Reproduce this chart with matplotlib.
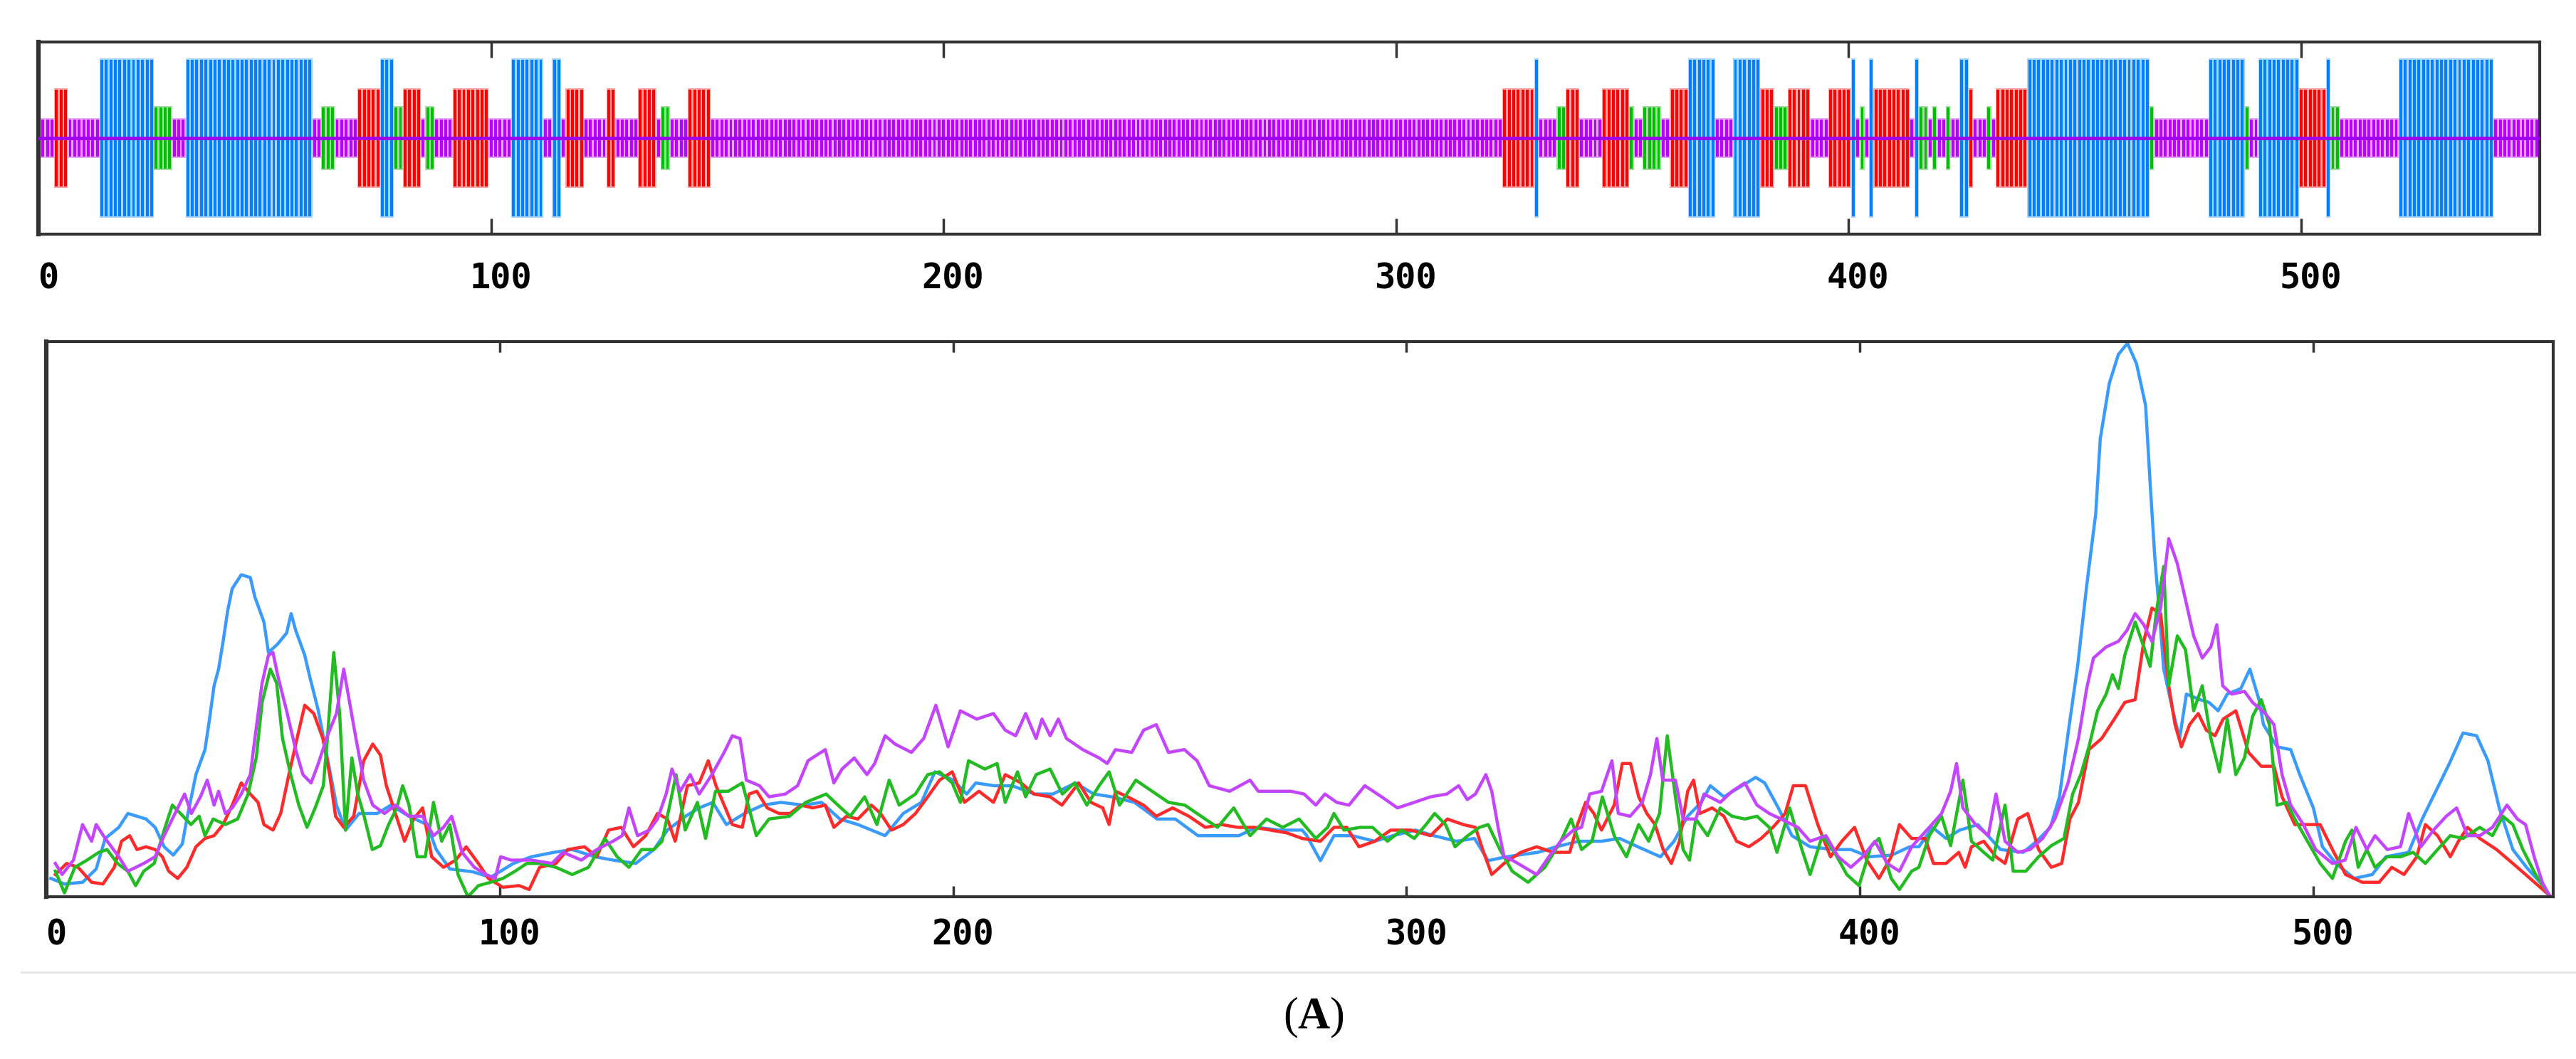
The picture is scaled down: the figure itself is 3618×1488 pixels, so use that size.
import numpy as np
import matplotlib
matplotlib.use("Agg")
import matplotlib.pyplot as plt
from matplotlib.lines import Line2D

plt.rcParams["mathtext.fontset"] = "custom"
plt.rcParams["mathtext.rm"] = "Liberation Serif"
plt.rcParams["mathtext.bf"] = "Liberation Serif:bold"

# secondary structure runs: start, end, state (h helix, e strand, t turn, c coil)
ss_start = [1, 4, 7, 14, 26, 30, 33, 61, 63, 66, 71, 76, 79, 81, 85, 86, 88, 92, 100, 105,
            112, 114, 116, 117, 121, 126, 128, 133, 137, 138, 140, 144, 149, 324, 331, 332,
            336, 338, 341, 346, 352, 353, 355, 359, 361, 365, 371, 375, 381, 384, 387, 392,
            396, 401, 402, 403, 404, 405, 406, 414, 415, 416, 418, 419, 420, 422, 423, 425,
            427, 428, 431, 432, 433, 440, 467, 468, 480, 488, 489, 491, 500, 506, 507, 509,
            522, 543]
ss_end = [3, 6, 13, 25, 29, 32, 60, 62, 65, 70, 75, 78, 80, 84, 85, 87, 91, 99, 104, 111,
          113, 115, 116, 120, 125, 127, 132, 136, 137, 139, 143, 148, 323, 330, 331, 335,
          337, 340, 345, 351, 352, 354, 358, 360, 364, 370, 374, 380, 383, 386, 391, 395,
          400, 401, 402, 403, 404, 405, 413, 414, 415, 417, 418, 419, 421, 422, 424, 426,
          427, 430, 431, 432, 439, 466, 467, 479, 487, 488, 490, 499, 505, 506, 508, 521,
          542, 552]
ss_state = ["c", "e", "c", "h", "t", "c", "h", "c", "t", "c",
            "e", "h", "t", "e", "c", "t", "c", "e", "c", "h",
            "c", "h", "c", "e", "c", "e", "c", "e", "c", "t",
            "c", "e", "c", "e", "h", "c", "t", "e", "c", "e",
            "t", "c", "t", "c", "e", "h", "c", "h", "e", "t",
            "e", "c", "e", "h", "c", "t", "c", "h", "e", "c",
            "h", "t", "c", "t", "c", "t", "c", "h", "e", "c",
            "t", "c", "e", "h", "t", "c", "h", "t", "c", "h",
            "e", "h", "t", "c", "h", "c"]

# score curves (fraction of the plot height)
helix_x = [1, 4, 8, 11, 13, 16, 18, 20, 22, 24, 26, 28, 30, 31, 33, 35, 36, 37, 38, 39, 40, 41,
           43, 45, 46, 48, 49, 51, 53, 54, 55, 57, 58, 60, 62, 64, 66, 69, 73, 76, 80, 84, 86,
           89, 94, 98, 103, 107, 112, 116, 121, 125, 130, 134, 137, 141, 144, 147, 150, 154,
           158, 162, 167, 171, 175, 179, 185, 189, 193, 196, 200, 203, 205, 209, 213, 218, 222,
           227, 231, 235, 240, 245, 249, 254, 258, 263, 267, 272, 277, 278, 281, 284, 288, 293,
           297, 302, 306, 311, 315, 318, 322, 329, 333, 338, 343, 347, 351, 356, 359, 362, 365,
           367, 370, 374, 377, 379, 382, 385, 389, 394, 398, 402, 407, 411, 413, 416, 419, 422,
           426, 431, 436, 439, 442, 444, 446, 448, 450, 452, 453, 455, 457, 459, 461, 463, 464,
           465, 466, 467, 469, 470.5, 472, 475, 477, 479, 481, 484, 486, 488, 489, 492, 495, 497,
           500, 502, 505, 509, 513, 516, 521, 524, 527, 530, 533, 536, 538.5, 541, 544, 547,
           550, 552]
helix_y = [.033, .023, .026, .05, .105, .125, .15, .145, .14, .125, .09, .075, .095, .14, .22,
           .265, .32, .38, .41, .46, .515, .555, .58, .575, .54, .495, .44, .455, .475, .51,
           .48, .435, .40, .335, .25, .165, .12, .15, .15, .165, .145, .13, .085, .05, .045,
           .035, .06, .072, .08, .085, .072, .066, .06, .085, .12, .145, .16, .17, .13, .15,
           .165, .17, .165, .17, .14, .13, .11, .15, .17, .225, .21, .185, .205, .20, .20, .185,
           .185, .205, .185, .18, .17, .14, .14, .11, .11, .11, .125, .12, .12, .11, .065, .11,
           .11, .10, .11, .12, .11, .10, .105, .065, .072, .08, .09, .10, .10, .105, .09, .072,
           .10, .145, .17, .20, .18, .20, .215, .205, .16, .11, .09, .085, .085, .072, .075,
           .09, .09, .125, .105, .12, .13, .085, .08, .10, .125, .18, .30, .415, .56, .69, .825,
           .925, .977, .997, .96, .885, .745, .615, .515, .41, .335, .285, .365, .355, .35,
           .335, .365, .375, .41, .355, .31, .27, .265, .22, .16, .09, .06, .033, .04, .072,
           .08, .14, .19, .24, .295, .29, .245, .16, .085, .053, .026, .003]

strand_x = [2, 4.5, 7, 10, 12.5, 15, 16.6, 18.4, 20, 22, 24, 25.6, 27, 29, 31, 33, 35, 37, 39,
            41, 43, 45, 46.7, 48, 50, 51.7, 53.5, 55.3, 57, 59, 61, 62.5, 63.8, 65.6, 67.8, 70,
            72, 73.7, 75, 77, 79, 81, 83, 85, 87.6, 90.3, 92.6, 95.3, 97.5, 100.7, 104.3, 106.5,
            108.8, 112.4, 115, 118.7, 121.4, 124, 126.8, 129.5, 132.2, 134.8, 137, 138.7, 141.4,
            144, 146, 147.7, 149.5, 151.3, 153.5, 155, 156.7, 159, 161.6, 164, 166.5, 169, 171.8,
            173.7, 176.5, 179, 182, 184, 186.4, 189, 191.7, 194.4, 197, 199.8, 202.5, 205.7,
            208.9, 211.5, 215, 217.8, 221.4, 224, 227.7, 230.4, 233, 234.4, 235.8, 238.5, 242,
            244.8, 248.4, 252, 255.6, 259.2, 262.8, 266.4, 270, 273.6, 277, 281, 284, 286.8,
            289.5, 293, 296.5, 301, 305.3, 309, 312.5, 315.2, 317, 318.8, 321.5, 325.2, 328.7,
            332.3, 336, 337.7, 339.5, 341.3, 343, 345.8, 347.6, 349.4, 351.2, 353, 354.8, 356.6,
            358.4, 360.2, 362, 363.3, 364.7, 367.4, 370, 372.8, 375.5, 378.2, 380.8, 383.5,
            385.3, 388, 390.7, 393.5, 396, 398.8, 401.5, 404.2, 406.9, 408.7, 411.4, 414.4,
            416.2, 419, 421.8, 423.2, 424.6, 427.3, 430, 432, 434.8, 437, 439.4, 442.2, 444.5,
            446.3, 448.2, 450.5, 453.3, 456.1, 458.4, 460.7, 462.6, 464.4, 466.3, 468.1, 469.5,
            470.9, 472.7, 474.6, 476.4, 478.3, 480.1, 482.9, 485.7, 488.5, 491.3, 493.1, 495.9,
            498.7, 501.5, 504.2, 507.1, 510.8, 514.5, 517.3, 520, 522.8, 524.7, 527.4, 530.2,
            532, 534, 536.7, 540.4, 544, 546.8, 549.6, 552]
strand_y = [.04, .06, .053, .026, .023, .053, .10, .11, .085, .09, .085, .072, .046, .033, .053,
            .09, .105, .11, .13, .165, .205, .185, .17, .13, .12, .15, .22, .285, .345, .33,
            .285, .22, .145, .125, .145, .245, .275, .255, .20, .15, .10, .14, .16, .072, .053,
            .066, .09, .06, .033, .017, .02, .013, .053, .06, .085, .09, .072, .12, .125, .09,
            .11, .15, .14, .10, .20, .205, .245, .20, .165, .13, .125, .185, .19, .16, .15, .15,
            .165, .16, .165, .125, .145, .14, .165, .15, .12, .13, .15, .18, .21, .225, .17,
            .19, .17, .22, .205, .185, .18, .165, .205, .17, .16, .13, .19, .18, .165, .145,
            .16, .145, .125, .13, .125, .125, .12, .115, .105, .10, .125, .125, .09, .10, .12,
            .12, .11, .14, .13, .125, .08, .04, .06, .08, .09, .08, .08, .13, .17, .15, .12,
            .165, .24, .24, .18, .15, .13, .085, .06, .10, .19, .21, .15, .16, .145, .10, .09,
            .105, .125, .15, .20, .20, .13, .072, .10, .125, .066, .033, .072, .13, .105, .105,
            .06, .06, .08, .053, .09, .10, .072, .06, .14, .15, .085, .053, .06, .14, .17,
            .265, .285, .32, .35, .355, .46, .52, .51, .38, .31, .27, .31, .33, .30, .29, .32,
            .335, .26, .235, .235, .18, .13, .13, .13, .085, .04, .026, .026, .053, .04, .072,
            .13, .11, .072, .10, .125, .105, .085, .06, .04, .02, .003]

turn_x = [2, 4, 6.3, 9, 11.6, 13.4, 15.7, 18, 19.7, 21.5, 23.8, 26, 27.8, 29.6, 31.9, 33.7, 35,
          36.8, 39.5, 42.2, 44.5, 46.3, 47.6, 49.4, 50.8, 52.1, 53.9, 55.7, 57.5, 59.3, 61.1,
          62, 63.4, 64.7, 66, 67.4, 68.7, 70.1, 71.9, 73.7, 75.5, 77.3, 78.6, 80, 81.8, 83.6,
          85.4, 87.2, 89, 90.8, 93, 95.3, 98, 100.7, 103.4, 106, 108.8, 112.4, 116, 119.6,
          123.2, 125.9, 128.5, 131.3, 134, 135.8, 137.5, 138.9, 140.9, 143.6, 145.4, 147.6,
          150.4, 153.5, 156.6, 159.4, 163.9, 167.5, 172, 174.6, 177.3, 180.5, 183.2, 185.9,
          188.1, 191.7, 194.4, 197, 199.8, 201.6, 203.4, 207, 209.7, 211.5, 214.2, 216, 218.3,
          221.4, 224.1, 226.8, 229.5, 232.2, 234.4, 236.7, 240.3, 243.9, 247.5, 251.1, 254.7,
          258.3, 261.9, 265.5, 269.1, 272.7, 276.3, 280, 282.6, 284, 286.2, 289.8, 292.5,
          295.8, 298.9, 301.7, 304.3, 306.2, 308.6, 310.7, 313.5, 316.1, 318, 320.6, 323.3,
          326.8, 330.5, 334, 336.3, 338.6, 340.9, 343.2, 345.8, 348.5, 351.2, 353.4, 355.8,
          357.5, 359.3, 361, 362.4, 363.8, 366.4, 369.2, 371.8, 374.6, 377.3, 380, 381.7,
          384.5, 387.2, 389, 391.7, 394.4, 397.1, 399.8, 402.4, 404.2, 406.9, 408.7, 411.4,
          413, 415.3, 418, 420, 422.7, 424.6, 427.3, 429.3, 432, 433.8, 436.6, 439.4, 442.2,
          445, 446.9, 448.7, 450.5, 452.4, 454.3, 455.7, 457, 458.4, 460.7, 462.6, 464, 465.4,
          467, 468.1, 470, 471.8, 473.6, 475.5, 477.4, 479.3, 481, 482.9, 484.8, 486.6, 488.5,
          490.3, 492, 494.1, 495.9, 498.7, 501.5, 504.2, 507.1, 508.5, 509.9, 511.8, 513.6,
          516.3, 519.2, 522, 524.7, 527.4, 530.2, 533, 536.7, 539.5, 541.8, 544, 546.2, 549,
          551.7]
turn_y = [.046, .007, .053, .066, .08, .085, .06, .046, .02, .046, .06, .12, .165, .15, .13,
          .145, .11, .14, .13, .14, .185, .25, .35, .41, .385, .285, .22, .165, .125, .16, .20,
          .285, .44, .33, .12, .25, .185, .145, .085, .092, .13, .16, .20, .165, .072, .072,
          .17, .10, .13, .04, .0, .02, .026, .033, .046, .06, .06, .053, .04, .053, .105,
          .072, .053, .085, .085, .10, .165, .22, .12, .17, .105, .19, .19, .205, .11, .14,
          .145, .17, .185, .165, .145, .18, .13, .21, .165, .185, .22, .225, .205, .17, .245,
          .23, .24, .17, .225, .18, .22, .23, .185, .205, .165, .20, .225, .165, .21, .19, .17,
          .165, .145, .125, .16, .11, .14, .125, .14, .105, .125, .15, .12, .125, .125, .10,
          .12, .105, .13, .15, .13, .09, .11, .125, .13, .085, .046, .026, .053, .10, .14,
          .085, .10, .18, .11, .072, .13, .10, .15, .29, .18, .085, .066, .14, .11, .16, .145,
          .14, .145, .125, .08, .16, .085, .04, .11, .08, .04, .02, .09, .105, .033, .013,
          .046, .053, .11, .145, .092, .21, .10, .08, .066, .165, .046, .046, .072, .092, .105,
          .185, .22, .27, .335, .365, .40, .375, .435, .495, .45, .415, .515, .595, .38, .47,
          .445, .335, .38, .285, .225, .32, .22, .25, .325, .355, .31, .165, .17, .14, .10,
          .06, .033, .10, .12, .053, .085, .053, .072, .072, .08, .06, .085, .11, .105, .125,
          .11, .145, .13, .085, .04, .007]

coil_x = [2, 3.5, 6, 8, 10, 11, 13, 16, 18, 21.5, 24, 26, 29, 30.5, 32, 34, 35.5, 37, 38, 39.5,
          41, 43, 45, 46, 47.6, 49, 50, 51, 53, 55, 56.6, 58.4, 60, 62, 64, 65.6, 67, 68.3, 70,
          72, 74.6, 77, 80, 83, 85.4, 87.6, 89.4, 91.7, 94.4, 97, 99, 100.2, 102.5, 107, 111.5,
          114, 118, 121.4, 125, 127, 128.5, 130.4, 133, 134.8, 136.7, 138, 139.8, 142, 144,
          146.8, 149.5, 151.3, 153, 154.4, 157.3, 159.4, 163, 165.7, 168, 171.8, 173.7, 175.5,
          178.2, 181, 182.7, 185, 187.2, 190.8, 193.5, 196.2, 198.9, 201.6, 205.2, 208.9,
          211.5, 213.8, 216, 218.3, 219.6, 221.4, 223.2, 225, 228.6, 232.2, 234, 235.8, 239.4,
          242, 244.8, 247.5, 251, 253.8, 256.5, 261, 265.5, 267.3, 271.8, 274.5, 277.4, 280,
          282, 284.6, 287.3, 290.8, 294.5, 298, 301.7, 305.3, 308.9, 311.5, 313.4, 315.2,
          317.5, 318.8, 320.2, 321.5, 323.3, 326, 328.7, 331.4, 334, 336.8, 338.6, 340.4, 343,
          345.3, 346.7, 349.3, 352, 353.8, 355.2, 356.5, 359.3, 361, 363.8, 365.6, 369.2,
          371.8, 374.6, 377.3, 380, 382.6, 386.3, 389, 392.5, 395.2, 398, 400.6, 403.3, 406,
          408.7, 411.4, 415.3, 418, 420, 421.3, 422.7, 425.5, 428.3, 430, 432, 434.8, 437.5,
          440.3, 443, 445.9, 448.2, 450, 451.5, 454.3, 457, 458.9, 460.7, 462.6, 464.4, 466.3,
          468.1, 470, 471.8, 473.6, 475.5, 477.4, 478.7, 480, 482, 484.8, 486.6, 489.4, 491.3,
          493.1, 495, 497.8, 500.5, 504.2, 507, 509.4, 511.8, 513.6, 516.3, 519.2, 521, 523.7,
          526.5, 529.3, 531.6, 534, 536.7, 539.5, 542.7, 545, 546.8, 548.7, 550.5, 552]
coil_y = [.06, .04, .066, .13, .10, .13, .105, .072, .046, .06, .072, .11, .16, .185, .15, .18,
          .21, .165, .19, .15, .16, .185, .22, .285, .385, .435, .44, .40, .335, .265, .22,
          .205, .24, .29, .33, .41, .345, .285, .21, .165, .15, .165, .145, .145, .11, .125,
          .145, .08, .053, .04, .033, .072, .066, .066, .06, .08, .066, .085, .10, .11, .16,
          .11, .12, .14, .185, .23, .19, .22, .185, .22, .26, .29, .285, .21, .20, .18, .185,
          .20, .245, .265, .205, .23, .25, .22, .24, .29, .275, .26, .285, .345, .27, .335,
          .32, .33, .30, .29, .33, .285, .32, .29, .32, .285, .265, .25, .24, .265, .26, .30,
          .31, .26, .265, .245, .20, .19, .21, .19, .19, .19, .185, .165, .185, .17, .165,
          .20, .18, .16, .17, .18, .185, .20, .175, .185, .22, .19, .125, .072, .066, .053,
          .04, .072, .10, .12, .125, .185, .19, .245, .15, .145, .17, .22, .285, .21, .21,
          .14, .14, .185, .17, .19, .205, .165, .15, .14, .125, .10, .11, .072, .053, .072,
          .10, .06, .046, .09, .125, .15, .19, .24, .16, .13, .11, .185, .10, .08, .085, .105,
          .14, .205, .285, .375, .43, .45, .46, .48, .51, .49, .46, .52, .645, .60, .535, .47,
          .43, .45, .49, .38, .365, .37, .35, .33, .31, .22, .165, .13, .085, .06, .066, .125,
          .085, .11, .085, .09, .15, .09, .12, .145, .16, .11, .11, .125, .165, .14, .13,
          .072, .026, .003]

tick_values = [0, 100, 200, 300, 400, 500]
tick_labels = ["0", "100", "200", "300", "400", "500"]

ss_height = {"h": 0.833, "e": 0.52, "t": 0.333, "c": 0.207}
ss_color = {"h": "#0080FF", "e": "#FF0000", "t": "#00BE00", "c": "#BB00FF"}
ss_light = {"h": "#A9D3FF", "e": "#FFA6A6", "t": "#9FE09F", "c": "#E9A6FF"}
line_color = {"h": "#3A9BFF", "e": "#FF2A2A", "t": "#22BB22", "c": "#C445FF"}

W, H = 3618, 1488
fig = plt.figure(figsize=(W / 100, H / 100), dpi=100)
fig.patch.set_facecolor("white")


def px_axes(x0, y0, x1, y1):
    return fig.add_axes([x0 / W, 1 - y1 / H, (x1 - x0) / W, (y1 - y0) / H])


def style_frame(ax, tick_len):
    for s in ax.spines.values():
        s.set_color("#333333")
        s.set_linewidth(3)
    ax.spines["left"].set_linewidth(4.5)
    ax.set_yticks([])
    ax.set_xticks(tick_values)
    ax.tick_params(axis="x", which="both", direction="in", top=True, bottom=True,
                   length=tick_len, width=2.5, color="#333333", labelbottom=False)


def put_labels(ax, y):
    for v, lab in zip(tick_values, tick_labels):
        ax.text(v + 2.1, y, lab, transform=ax.get_xaxis_transform(), ha="center",
                va="center", fontsize=35, fontweight="bold", family="DejaVu Sans Mono",
                clip_on=False)


# top panel: predicted states
ax1 = px_axes(54, 59, 3567, 329)
res = []
states = []
for s, e, st in zip(ss_start, ss_end, ss_state):
    for r in range(s, e + 1):
        res.append(r)
        states.append(st)
res = np.array(res)
states = np.array(states)
for st in ["c", "t", "e", "h"]:
    sel = res[states == st]
    h = ss_height[st]
    ax1.bar(sel, 2 * h, bottom=-h, width=1.0, color=ss_light[st], linewidth=0, zorder=2)
    ax1.bar(sel, 2 * h - 0.03, bottom=-h + 0.015, width=0.62, color=ss_color[st],
            linewidth=0, zorder=3)
ax1.axhline(0, color="#A000EE", lw=3.5, zorder=4)
ax1.set_xlim(1.2, 552.7)
ax1.set_ylim(-1, 1)
style_frame(ax1, 16)
put_labels(ax1, -0.23)

# bottom panel: score curves
ax2 = px_axes(65, 480, 3586, 1260)
ax2.plot(helix_x, helix_y, color=line_color["h"], lw=3.2)
ax2.plot(strand_x, strand_y, color=line_color["e"], lw=3.2)
ax2.plot(turn_x, turn_y, color=line_color["t"], lw=3.2)
ax2.plot(coil_x, coil_y, color=line_color["c"], lw=3.2)
ax2.set_xlim(1.4, 552.9)
ax2.set_ylim(0, 1)
style_frame(ax2, 11)
put_labels(ax2, -0.069)

fig.add_artist(Line2D([30 / W, 1], [1 - 1366 / H] * 2, color="#E6E6E6", lw=2))
fig.text(0.51, 1 - 1430 / H, r"$\mathrm{(}\mathbf{A}\mathrm{)}$", ha="center",
         va="center", fontsize=45)

fig.savefig("out.png", dpi=100, facecolor="white")
